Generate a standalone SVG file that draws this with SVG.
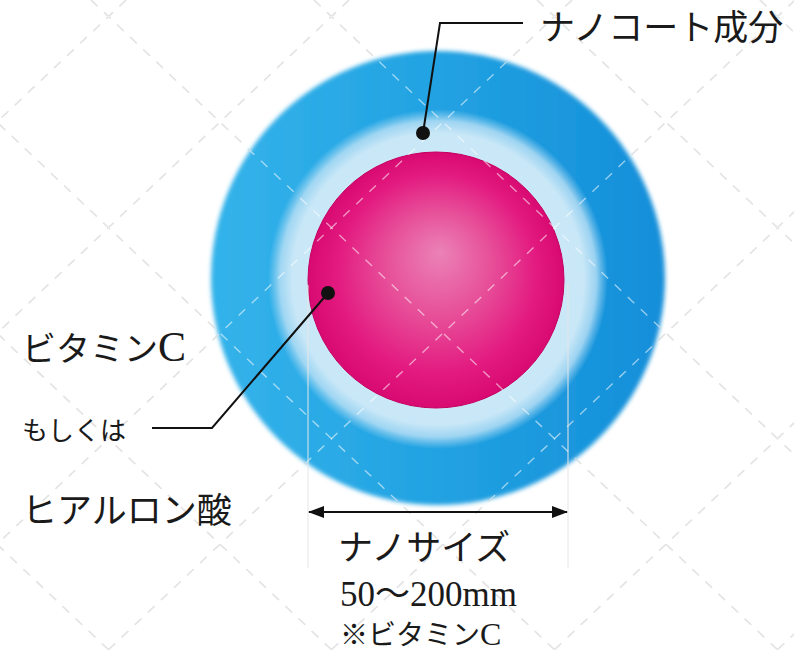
<svg xmlns="http://www.w3.org/2000/svg" width="794" height="654" viewBox="0 0 794 654">
  <style>
    .ja { font-family: "Liberation Serif", "Noto Sans CJK JP", serif; fill: #1a1a1a; }
    .lead { fill: none; stroke: #111; stroke-width: 2; stroke-linejoin: miter; }
    .dot { fill: #111; }
    .ext { stroke: #e6e6e6; stroke-width: 1; fill: none; }
  </style>
  <defs>
    <linearGradient id="shellBlue" x1="210" y1="0" x2="666" y2="0" gradientUnits="userSpaceOnUse">
      <stop offset="0" stop-color="#34b3ea"/>
      <stop offset="0.5" stop-color="#22a2e2"/>
      <stop offset="1" stop-color="#148ed9"/>
    </linearGradient>
    <radialGradient id="coatGlow" cx="438" cy="279" r="170" gradientUnits="userSpaceOnUse">
      <stop offset="0" stop-color="#d6eefa"/>
      <stop offset="0.86" stop-color="#c8e7f7"/>
      <stop offset="0.93" stop-color="#b4def5" stop-opacity="0.85"/>
      <stop offset="1" stop-color="#9fd5f2" stop-opacity="0"/>
    </radialGradient>
    <radialGradient id="corePink" cx="436" cy="280" r="128" fx="440" fy="252" gradientUnits="userSpaceOnUse">
      <stop offset="0" stop-color="#eb82b7"/>
      <stop offset="0.4" stop-color="#e7519a"/>
      <stop offset="0.78" stop-color="#e31a80"/>
      <stop offset="1" stop-color="#d80a72"/>
    </radialGradient>
    <filter id="soft" x="-10%" y="-10%" width="120%" height="120%">
      <feGaussianBlur stdDeviation="2.2"/>
    </filter>
    <marker id="arrowHead" viewBox="0 0 16 12" refX="15" refY="6" markerWidth="16" markerHeight="12" markerUnits="userSpaceOnUse" orient="auto-start-reverse">
      <path d="M0,0 L16,6 L0,12 Z" fill="#111"/>
    </marker>
    <!-- diagonal dashed lattice; stroke comes from the referencing element -->
    <g id="lattice" fill="none">
      <path d="M-578,0 L113,654"/>
      <path d="M-355,0 L336,654"/>
      <path d="M-132,0 L559,654"/>
      <path d="M91,0 L782,654"/>
      <path d="M314,0 L1005,654"/>
      <path d="M537,0 L1228,654"/>
      <path d="M760,0 L1451,654"/>
      <path d="M126,0 L-565,654"/>
      <path d="M349,0 L-342,654"/>
      <path d="M572,0 L-119,654"/>
      <path d="M795,0 L104,654"/>
      <path d="M1018,0 L327,654"/>
      <path d="M1241,0 L550,654"/>
      <path d="M1464,0 L773,654"/>
    </g>
  </defs>

  <rect x="0" y="0" width="794" height="654" fill="#ffffff"/>

  <!-- background dashed lattice -->
  <use href="#lattice" stroke="#c6c6c6" stroke-width="1.4" stroke-dasharray="9 9"/>

  <!-- particle: outer shell, coating layer, core -->
  <g id="nano-particle">
    <circle cx="438" cy="278" r="227" fill="url(#shellBlue)" filter="url(#soft)"/>
    <circle cx="438" cy="279" r="170" fill="url(#coatGlow)"/>
    <circle cx="436" cy="280" r="128" fill="url(#corePink)" stroke="#c4005f" stroke-width="1"/>
  </g>

  <!-- lattice seen over the particle -->
  <use href="#lattice" stroke="#ffffff" stroke-opacity="0.55" stroke-width="1.4" stroke-dasharray="9 9"/>

  <!-- dimension extension lines -->
  <g id="extension-lines">
    <line class="ext" x1="308" y1="285" x2="308" y2="568"/>
    <line class="ext" x1="568" y1="285" x2="568" y2="568"/>
  </g>

  <g id="connectors">
    <polyline class="lead" points="423,133 440,23 523,23"/>
    <polyline class="lead" points="328,293 212,428 152,428"/>
    <line x1="309" y1="512" x2="567" y2="512" stroke="#111" stroke-width="2" marker-start="url(#arrowHead)" marker-end="url(#arrowHead)"/>
    <circle class="dot" cx="423" cy="133" r="7"/>
    <circle class="dot" cx="328" cy="293" r="7"/>
  </g>

  <g id="label-coat">
    <text class="ja" x="540" y="40" font-size="35">ナノコート成分</text>
  </g>
  <g id="label-core">
    <text class="ja" x="22" y="361" font-size="34">ビタミン<tspan font-size="42">C</tspan></text>
    <text class="ja" x="22" y="440" font-size="26">もしくは</text>
    <text class="ja" x="22" y="523" font-size="35">ヒアルロン酸</text>
  </g>
  <g id="label-size">
    <text class="ja" x="338" y="560" font-size="35">ナノサイズ</text>
    <text class="ja" x="340" y="606" font-size="35">50〜200mm</text>
    <text class="ja" x="340" y="645" font-size="28">※ビタミン<tspan font-size="32">C</tspan></text>
  </g>
</svg>
